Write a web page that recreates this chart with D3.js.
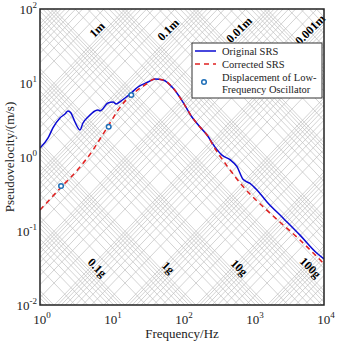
<!DOCTYPE html>
<html>
<head>
<meta charset="utf-8">
<script src="https://cdn.jsdelivr.net/npm/d3@7"></script>
<style>
  body { margin: 0; background: #fff; }
  svg { display: block; font-family: "Liberation Serif", "Times New Roman", serif; }
</style>
</head>
<body>
<div id="chart"></div>
<script>
'use strict'

// Original SRS
const origFreq = [1, 1.3, 1.52, 1.91, 2.25, 2.48, 2.73, 3.11, 3.66, 4.03, 4.74, 5.95, 6.56, 7.0, 9.07, 10.7, 11.8, 13.8, 18.5, 24, 33.2, 41.7, 54, 74.7, 103, 138, 179, 225, 292, 366, 474, 595, 723, 907, 1138, 1574, 2648, 4593, 7966, 10000];
const origVel = [1.32, 1.81, 2.47, 3.37, 3.81, 4.19, 3.93, 2.97, 2.32, 2.88, 3.47, 4.19, 4.32, 4.19, 5.37, 5.53, 5.2, 5.71, 7.1, 8.83, 10.3, 11.3, 11.0, 8.56, 5.53, 3.47, 2.54, 1.98, 1.36, 1.06, 0.92, 0.74, 0.5, 0.44, 0.358, 0.247, 0.15, 0.088, 0.050, 0.042];

// Corrected SRS
const corrFreq = [1, 1.98, 3.66, 5.57, 7.0, 9.68, 12.6, 16.3, 21.8, 30.1, 41.7, 54, 74.7, 103, 138, 179, 225, 292, 430, 723, 1574, 4593, 10000];
const corrVel = [0.192, 0.39, 0.733, 1.24, 1.75, 2.88, 4.32, 5.89, 7.55, 9.4, 11.3, 11.0, 8.56, 5.53, 3.47, 2.54, 1.98, 1.3, 0.76, 0.4, 0.19, 0.0755, 0.036];

// Displacement of low-frequency oscillator
const markFreq = [1.98, 9.28, 19.3];
const markVel = [0.405, 2.56, 6.9];

// tripartite grid labels
const dispLabels = [1, 0.1, 0.01, 0.001];
const accLabels = [0.1, 1, 10, 100];
const xTicks = [1, 10, 100, 1000, 10000];
const yTicks = [0.01, 0.1, 1, 10, 100];

const G = 9.81;
const W = 337, H = 342;
const margin = { top: 9, right: 13, bottom: 37, left: 40 };
const pw = W - margin.left - margin.right;
const ph = H - margin.top - margin.bottom;

const svg = d3.select("#chart").append("svg")
    .attr("width", W)
    .attr("height", H);

const g = svg.append("g")
    .attr("transform", `translate(${margin.left},${margin.top})`);

const x = d3.scaleLog().domain([1, 1e4]).range([0, pw]);
const y = d3.scaleLog().domain([1e-2, 1e2]).range([ph, 0]);

g.append("clipPath").attr("id", "clip")
    .append("rect").attr("width", pw).attr("height", ph);

g.append("rect").attr("width", pw).attr("height", ph).attr("fill", "#fff");

const grid = g.append("g").attr("clip-path", "url(#clip)");

// diagonal grid: constant displacement and constant acceleration
const dispLines = [];
for (let n = -8; n <= 1; n++) for (let k = 1; k <= 9; k++) dispLines.push(k * Math.pow(10, n));
const accLines = [];
for (let n = -3; n <= 5; n++) for (let k = 1; k <= 9; k++) accLines.push(k * Math.pow(10, n));

grid.selectAll(".dline")
    .data(dispLines)
    .enter().append("line")
    .attr("x1", x(1)).attr("x2", x(1e4))
    .attr("y1", d => y(2 * Math.PI * 1 * d))
    .attr("y2", d => y(2 * Math.PI * 1e4 * d))
    .attr("stroke", "#c0c0c0")
    .attr("stroke-width", 0.7);

grid.selectAll(".aline")
    .data(accLines)
    .enter().append("line")
    .attr("x1", x(1)).attr("x2", x(1e4))
    .attr("y1", d => y(d * G / (2 * Math.PI * 1)))
    .attr("y2", d => y(d * G / (2 * Math.PI * 1e4)))
    .attr("stroke", "#c0c0c0")
    .attr("stroke-width", 0.7);

// grid labels
const dispV = 46;
g.selectAll(".dlab")
    .data(dispLabels)
    .enter().append("text")
    .attr("transform", d => `translate(${x(dispV / (2 * Math.PI * d))},${y(dispV)}) rotate(-45)`)
    .attr("dy", -2)
    .attr("text-anchor", "middle")
    .style("font-size", "12px")
    .style("font-weight", "bold")
    .text(d => d + "m");

const accV = 0.028;
g.selectAll(".alab")
    .data(accLabels)
    .enter().append("text")
    .attr("transform", d => `translate(${x(d * G / (2 * Math.PI * accV))},${y(accV)}) rotate(45)`)
    .attr("dy", -2)
    .attr("text-anchor", "middle")
    .style("font-size", "12px")
    .style("font-weight", "bold")
    .text(d => d + "g");

// curves
const line = d3.line()
    .x(d => x(d[0]))
    .y(d => y(d[1]))
    .curve(d3.curveMonotoneX);

const plot = g.append("g").attr("clip-path", "url(#clip)");

plot.append("path")
    .datum(origFreq.map((f, i) => [f, origVel[i]]))
    .attr("d", line)
    .attr("fill", "none")
    .attr("stroke", "#0a0ad2")
    .attr("stroke-width", 1.5);

plot.append("path")
    .datum(corrFreq.map((f, i) => [f, corrVel[i]]))
    .attr("d", line)
    .attr("fill", "none")
    .attr("stroke", "#e02020")
    .attr("stroke-width", 1.5)
    .attr("stroke-dasharray", "5,4");

plot.selectAll(".mark")
    .data(markFreq.map((f, i) => [f, markVel[i]]))
    .enter().append("circle")
    .attr("cx", d => x(d[0]))
    .attr("cy", d => y(d[1]))
    .attr("r", 2.3)
    .attr("fill", "#fff")
    .attr("stroke", "#1f6fb8")
    .attr("stroke-width", 1.5);

// frame
g.append("rect")
    .attr("width", pw).attr("height", ph)
    .attr("fill", "none")
    .attr("stroke", "#222")
    .attr("stroke-width", 1.5);

// tick labels with superscript exponents
function powLabel(sel, v) {
    sel.append("tspan").text("10");
    sel.append("tspan")
        .attr("dy", -6)
        .style("font-size", "9px")
        .text(Math.round(Math.log10(v)));
}

xTicks.forEach(v => {
    const t = g.append("text")
        .attr("x", x(v) + 2)
        .attr("y", ph + 19)
        .attr("text-anchor", "middle")
        .style("font-size", "13px")
        .attr("fill", "#222");
    powLabel(t, v);
});

yTicks.forEach(v => {
    const t = g.append("text")
        .attr("x", -3)
        .attr("y", y(v) + 5)
        .attr("text-anchor", "end")
        .style("font-size", "13px")
        .attr("fill", "#222");
    powLabel(t, v);
});

svg.append("text")
    .attr("x", margin.left + pw / 2)
    .attr("y", H - 4)
    .attr("text-anchor", "middle")
    .style("font-size", "13px")
    .attr("fill", "#222")
    .text("Frequency/Hz");

svg.append("text")
    .attr("transform", `translate(14,${margin.top + ph / 2}) rotate(-90)`)
    .attr("text-anchor", "middle")
    .style("font-size", "13px")
    .attr("fill", "#222")
    .text("Pseudovelocity/(m/s)");

// legend
const legend = svg.append("g").attr("transform", "translate(192,43)");
legend.append("rect")
    .attr("width", 130).attr("height", 55)
    .attr("fill", "#fff")
    .attr("stroke", "#333")
    .attr("stroke-width", 1);

legend.append("line")
    .attr("x1", 3).attr("x2", 24).attr("y1", 8).attr("y2", 8)
    .attr("stroke", "#0a0ad2").attr("stroke-width", 1.5);
legend.append("line")
    .attr("x1", 3).attr("x2", 24).attr("y1", 21).attr("y2", 21)
    .attr("stroke", "#e02020").attr("stroke-width", 1.5)
    .attr("stroke-dasharray", "5,4");
legend.append("circle")
    .attr("cx", 12).attr("cy", 39).attr("r", 2.3)
    .attr("fill", "#fff").attr("stroke", "#1f6fb8").attr("stroke-width", 1.5);

const legText = [["Original SRS", 12], ["Corrected SRS", 24.5], ["Displacement of Low-", 37.5], ["Frequency Oscillator", 50]];
legend.selectAll(".lt")
    .data(legText)
    .enter().append("text")
    .attr("x", 30)
    .attr("y", d => d[1])
    .style("font-size", "10.5px")
    .attr("fill", "#222")
    .text(d => d[0]);
</script>
</body>
</html>
